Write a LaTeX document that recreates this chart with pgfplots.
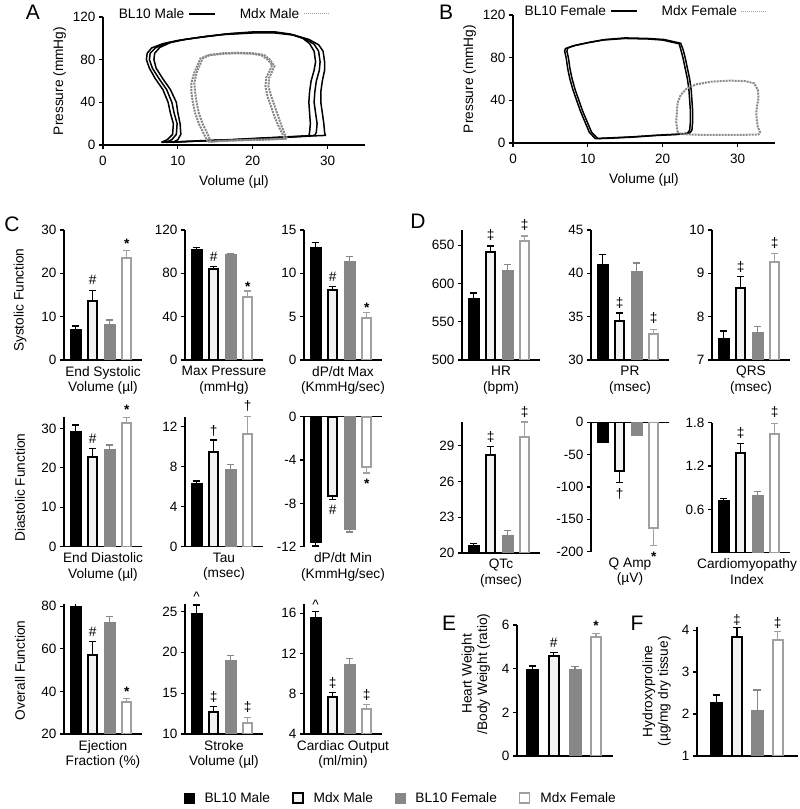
\documentclass[border=0pt]{standalone}
\usepackage{fontspec}
\setmainfont{Liberation Sans}
\usepackage{pgfplots}
\pgfplotsset{compat=1.18}
\definecolor{gF}{RGB}{135,135,135}
\definecolor{gM}{RGB}{160,160,160}
\definecolor{gL}{RGB}{135,135,135}
\newcommand{\tk}{\fontsize{13.5}{15}\selectfont}
\newcommand{\lb}{\fontsize{13.7}{15.5}\selectfont}
\newcommand{\pl}{\fontsize{21}{23}\selectfont}
\def\bw{10.5}\def\mw{8.5}
\pgfplotsset{
 common/.style={scale only axis, anchor=south west, axis x line*=bottom, axis y line*=left,
   tick align=outside, major tick length=4pt, tick style={black, line width=1.1pt},
   axis line style={black, line width=1.1pt}, tick label style={font=\tk},
   /pgf/number format/assume math mode=true, label style={font=\lb}, enlargelimits=false},
 bp/.style={common, width=78pt, height=130pt, xmin=0.32, xmax=4.9, xtick=\empty,
   ybar, bar shift=0pt, clip=true, clip mode=individual},
 eb/.style n args={2}{error bars/.cd, y dir=#1, y explicit,
   error bar style={#2, line width=1.4pt},
   error mark options={rotate=90, #2, line width=1.4pt, mark size=3.8pt}},
 sBM/.style={bar shift=0pt, bar width=\bw pt, fill=black, draw=black, line width=0.4pt, eb={#1}{black}},
 sBM/.default=plus,
 sMM/.style={bar shift=0pt, bar width=\mw pt, fill=gray!10, draw=black, line width=2pt, eb={#1}{black}},
 sMM/.default=plus,
 sBF/.style={bar shift=0pt, bar width=\bw pt, fill=gF, draw=gF, line width=0.4pt, eb={#1}{gF}},
 sBF/.default=plus,
 sMF/.style={bar shift=0pt, bar width=\mw pt, fill=white, draw=gM, line width=2pt, eb={#1}{gM}},
 sMF/.default=plus,
 pv/.style={common, width=262pt, height=128pt, xmin=0, xmax=35, ymin=0, ymax=120,
   xtick={0,10,20,30}, ytick={0,40,80,120}, xlabel={Volume (µl)}, ylabel={Pressure (mmHg)},
   xticklabel style={yshift=-4pt}, xlabel style={yshift=-3pt},
   clip=false,
   legend image code/.code={\draw[##1] (0pt,0pt) -- (26pt,0pt);},
   legend style={draw=none, fill=none, font=\lb, legend columns=-1, anchor=center,
     /tikz/every even column/.append style={column sep=22pt},
     /tikz/every odd column/.append style={column sep=2pt}},
   legend plot pos=right},
 bl/.style={black, line width=1.5pt},
 ml/.style={gL, line width=2pt, dash pattern=on 2pt off 1pt},
}
\tikzset{an/.style={font=\lb, inner sep=0pt},
  cat/.style={font=\lb, align=center, anchor=north, inner sep=0pt, yshift=-6pt},
  plab/.style={font=\pl, inner sep=0pt}}
\begin{document}
\begin{tikzpicture}
\useasboundingbox (0,0) rectangle (800pt,809pt);
% ---------------- A
\begin{axis}[pv, at={(103pt,664pt)}, legend style={at={(axis description cs:0.46,1.025)}}]
\addlegendimage{black, line width=1.5pt}\addlegendentry{BL10 Male}
\addlegendimage{gM, line width=1pt, densely dotted}\addlegendentry{Mdx Male}
\addplot[bl, forget plot] coordinates {(7.8,2.5)(8.6,5)(9.3,10)(9.4,20)(9.0,30)(8.7,40)(8.0,52)(7.0,62)(6.2,72)(5.8,80)(5.9,86)(6.5,91)(8,95)(10,98)(13,101)(16,103.5)(20,105)(23,105)(25.5,103)(27.5,99)(28.8,94)(29.4,88)(29.6,78)(29.6,70)(29.3,60)(29.1,50)(29.1,40)(29.3,30)(29.5,20)(29.6,12)(29.7,9)(28,8.5)(24,7)(20,5.5)(16,4.5)(12,3.5)(9,2.8)(7.8,2.5)};
\addplot[bl, forget plot] coordinates {(8.4,2.5)(9.2,5)(9.8,10)(9.9,20)(9.5,30)(9.2,40)(8.5,52)(7.5,62)(6.6,72)(6.2,80)(6.3,86)(7.0,91)(8.5,95.5)(10.5,98.5)(13.5,101.5)(16.5,104)(20,105.5)(23,105.5)(25.3,103.5)(27.0,99.5)(28.2,94.5)(28.8,88)(29.0,78)(28.9,70)(28.5,60)(28.3,50)(28.2,40)(28.4,30)(28.6,20)(28.5,12)(28.3,9)(26,8)(22,6.5)(18,5)(14,4)(11,3.2)(8.4,2.5)};
\addplot[bl, forget plot] coordinates {(9.3,2.5)(10.0,5)(10.4,10)(10.3,20)(10.0,30)(9.8,40)(9.0,52)(8.0,62)(7.1,72)(6.8,80)(6.9,86)(7.6,91.5)(9,96)(11,99)(14,102)(17,104.5)(20,106)(23,106)(25,104)(26.7,100)(27.6,95)(28.2,88)(28.4,78)(28.2,70)(27.8,60)(27.6,50)(27.5,40)(27.6,30)(27.7,20)(27.6,12)(27.5,8.5)(25,7.8)(21,6.5)(17,5)(13,4)(10.5,3)(9.3,2.5)};
\addplot[ml, forget plot] coordinates {(14.0,3)(13.5,10)(12.8,20)(12.3,30)(12.0,40)(11.8,50)(11.8,58)(12.2,68)(12.7,76)(13.0,81)(14,84)(16,85.5)(18,86)(20,85.5)(21.2,84)(22.0,80)(22.6,75)(22.3,70)(21.8,63)(21.7,55)(22.0,45)(22.5,35)(23.0,25)(23.5,17)(24.0,10)(24.3,6)(22,5)(19,4.5)(16,3.8)(14.0,3)};
\addplot[ml, forget plot] coordinates {(14.4,3)(14.0,10)(13.3,20)(12.8,30)(12.5,40)(12.3,50)(12.2,58)(12.5,68)(13.0,76)(13.3,81)(14.3,84.5)(16,86)(18,86.5)(20,86)(21.5,84.5)(22.3,80)(22.9,74)(22.6,69)(22.2,63)(22.1,55)(22.5,45)(23.0,35)(23.5,25)(23.9,17)(24.3,10)(24.6,6)(22,5.3)(19,4.8)(16,4)(14.4,3)};
\end{axis}
\node[plab] at (33pt,797pt) {A};
% ---------------- B
\begin{axis}[pv, at={(513pt,666pt)}, legend style={at={(axis description cs:0.505,1.03)}}]
\addlegendimage{black, line width=1.5pt}\addlegendentry{BL10 Female}
\addlegendimage{gM, line width=1pt, densely dotted}\addlegendentry{Mdx Female}
\addplot[bl, forget plot] coordinates {(11.0,4)(10.2,10)(9.6,20)(9.0,30)(8.5,40)(8.0,50)(7.6,60)(7.3,70)(7.1,80)(6.9,86)(7.0,88.5)(8,91)(10,94)(12,96.5)(15,98)(18,97.5)(20,96.5)(22.2,93)(22.4,88)(22.7,80)(23.0,70)(23.3,60)(23.5,50)(23.6,40)(23.7,30)(23.7,20)(23.6,12)(23.3,9)(22,8)(19,7)(16,5.5)(13,4.5)(11.0,4)};
\addplot[bl, forget plot] coordinates {(11.3,4.3)(10.5,10)(9.9,20)(9.3,30)(8.8,40)(8.3,50)(7.9,60)(7.6,70)(7.4,80)(7.2,86)(7.3,89)(8.3,91.5)(10.3,94.5)(12.3,97)(15,98.5)(18,98)(20.2,97)(22.4,93.5)(22.7,88)(23.0,80)(23.3,70)(23.6,60)(23.8,50)(23.9,40)(24.0,30)(24.0,20)(23.9,12)(23.6,9.3)(22,8.3)(19,7.2)(16,5.8)(13,4.8)(11.3,4.3)};
\addplot[ml, forget plot] coordinates {(22.0,10)(21.8,20)(21.9,30)(22.0,38)(22.4,45)(23.2,51)(24.5,55)(26.5,57.5)(29,58.5)(31,58)(32.2,56)(32.7,50)(32.8,42)(32.6,35)(32.5,28)(32.6,20)(32.7,15)(33.0,10)(32.8,8)(30,7.5)(27,7.5)(24,7.8)(22.5,8.5)(22.0,10)};
\end{axis}
\node[plab] at (446pt,797pt) {B};
% ---------------- C row 1
\node[plab] at (12pt,585pt) {C};
\begin{axis}[bp, at={(64pt,449pt)}, ymin=0, ymax=30, ytick={0,10,20,30},
  ylabel={Systolic Function}, ylabel style={at={(axis description cs:-0.564,0.46)}, anchor=center}]
\addplot[sBM] coordinates {(1,7.0) +- (0,0.8)};
\addplot[sMM] coordinates {(2,13.7) +- (0,2.3)};
\addplot[sBF] coordinates {(3,8.2) +- (0,1.0)};
\addplot[sMF] coordinates {(4,23.65) +- (0,1.55)};
\node[an] at (axis cs:2,18.5) {\#};
\node[an, yshift=-3pt] at (axis cs:4,27.5) {\textbf{*}};
\node[cat] at (rel axis cs:0.5,0) {End Systolic\\Volume (µl)};
\end{axis}
\begin{axis}[bp, at={(185pt,449pt)}, ymin=0, ymax=120, ytick={0,40,80,120}]
\addplot[sBM] coordinates {(1,102.5) +- (0,1.5)};
\addplot[sMM] coordinates {(2,83.7) +- (0,2.5)};
\addplot[sBF] coordinates {(3,97.6) +- (0,0.9)};
\addplot[sMF] coordinates {(4,58.5) +- (0,5.2)};
\node[an] at (axis cs:2,95.3) {\#};
\node[an, yshift=-3pt] at (axis cs:4,70.8) {\textbf{*}};
\node[cat] at (rel axis cs:0.5,0) {Max Pressure\\(mmHg)};
\end{axis}
\begin{axis}[bp, at={(304pt,449pt)}, ymin=0, ymax=15, ytick={0,5,10,15}]
\addplot[sBM] coordinates {(1,13.07) +- (0,0.5)};
\addplot[sMM] coordinates {(2,8.08) +- (0,0.38)};
\addplot[sBF] coordinates {(3,11.42) +- (0,0.5)};
\addplot[sMF] coordinates {(4,4.88) +- (0,0.58)};
\node[an] at (axis cs:2,9.6) {\#};
\node[an, yshift=-3pt] at (axis cs:4,6.4) {\textbf{*}};
\node[cat] at (rel axis cs:0.5,0) {dP/dt Max\\(KmmHg/sec)};
\end{axis}
% ---------------- C row 2
\begin{axis}[bp, at={(64pt,262.3pt)}, ymin=0, ymax=33, ytick={0,10,20,30},
  ylabel={Diastolic Function}, ylabel style={at={(axis description cs:-0.564,0.455)}, anchor=center}]
\addplot[sBM] coordinates {(1,29.4) +- (0,1.5)};
\addplot[sMM] coordinates {(2,22.8) +- (0,2.1)};
\addplot[sBF] coordinates {(3,24.8) +- (0,1.0)};
\addplot[sMF] coordinates {(4,31.3) +- (0,1.5)};
\node[an] at (axis cs:2,27.3) {\#};
\node[an, yshift=-3pt] at (axis cs:4,35.4) {\textbf{*}};
\node[cat] at (rel axis cs:0.5,0) {End Diastolic\\Volume (µl)};
\end{axis}
\begin{axis}[bp, at={(185pt,262.3pt)}, ymin=0, ymax=13, ytick={0,4,8,12}]
\addplot[sBM] coordinates {(1,6.3) +- (0,0.26)};
\addplot[sMM] coordinates {(2,9.45) +- (0,1.22)};
\addplot[sBF] coordinates {(3,7.79) +- (0,0.41)};
\addplot[sMF] coordinates {(4,11.27) +- (0,1.73)};
\node[an] at (axis cs:2,11.6) {†};
\node[an] at (axis cs:4,14.1) {†};
\node[cat] at (rel axis cs:0.5,0) {Tau\\(msec)};
\end{axis}
\begin{axis}[bp, at={(304pt,262.3pt)}, axis x line*=top, ymin=-12, ymax=0, ytick={-12,-8,-4,0}, yticklabels={-12,-8,-4,0}]
\addplot[sBM=minus] coordinates {(1,-11.54) +- (0,0.4)};
\addplot[sMM=minus] coordinates {(2,-7.3) +- (0,0.35)};
\addplot[sBF=minus] coordinates {(3,-10.4) +- (0,0.25)};
\addplot[sMF=minus] coordinates {(4,-4.6) +- (0,0.6)};
\node[an] at (axis cs:2,-8.6) {\#};
\node[an, yshift=-3pt] at (axis cs:4,-5.96) {\textbf{*}};
\node[cat] at (rel axis cs:0.5,0) {dP/dt Min\\(KmmHg/sec)};
\end{axis}
% ---------------- C row 3
\begin{axis}[bp, at={(64pt,75pt)}, ymin=20, ymax=81, ytick={20,40,60,80},
  ylabel={Overall Function}, ylabel style={at={(axis description cs:-0.564,0.49)}, anchor=center}]
\addplot[sBM] coordinates {(1,80) +- (0,1.5)};
\addplot[sMM] coordinates {(2,57.2) +- (0,6.1)};
\addplot[sBF] coordinates {(3,72.6) +- (0,2.6)};
\addplot[sMF] coordinates {(4,35) +- (0,1.6)};
\node[an] at (axis cs:2,68.0) {\#};
\node[an, yshift=-3pt] at (axis cs:4,41.4) {\textbf{*}};
\node[cat] at (rel axis cs:0.5,0) {Ejection\\Fraction (\%)};
\end{axis}
\begin{axis}[bp, at={(185pt,75pt)}, ymin=10, ymax=25.9, ytick={10,15,20,25}]
\addplot[sBM] coordinates {(1,24.8) +- (0,1.0)};
\addplot[sMM] coordinates {(2,12.64) +- (0,0.69)};
\addplot[sBF] coordinates {(3,19.0) +- (0,0.6)};
\addplot[sMF] coordinates {(4,11.3) +- (0,0.7)};
\node[an, yshift=-2pt] at (axis cs:1,27.0) {\^{}};
\node[an] at (axis cs:2,14.56) {‡};
\node[an] at (axis cs:4,13.34) {‡};
\node[cat] at (rel axis cs:0.5,0) {Stroke\\Volume (µl)};
\end{axis}
\begin{axis}[bp, at={(304pt,75pt)}, ymin=4, ymax=16.9, ytick={4,8,12,16}]
\addplot[sBM] coordinates {(1,15.57) +- (0,0.59)};
\addplot[sMM] coordinates {(2,7.68) +- (0,0.42)};
\addplot[sBF] coordinates {(3,10.95) +- (0,0.55)};
\addplot[sMF] coordinates {(4,6.47) +- (0,0.43)};
\node[an, yshift=-2pt] at (axis cs:1,17.0) {\^{}};
\node[an] at (axis cs:2,9.06) {‡};
\node[an] at (axis cs:4,7.87) {‡};
\node[cat] at (rel axis cs:0.5,0) {Cardiac Output\\(ml/min)};
\end{axis}
% ---------------- D row 1
\node[plab] at (418pt,588pt) {D};
\begin{axis}[bp, at={(462pt,449pt)}, ymin=500, ymax=670, ytick={500,550,600,650}]
\addplot[sBM] coordinates {(1,580.5) +- (0,7.3)};
\addplot[sMM] coordinates {(2,640.6) +- (0,8.4)};
\addplot[sBF] coordinates {(3,617.5) +- (0,7.5)};
\addplot[sMF] coordinates {(4,655.7) +- (0,6.3)};
\node[an] at (axis cs:2,663.5) {‡};
\node[an] at (axis cs:4,676.5) {‡};
\node[cat] at (rel axis cs:0.5,0) {HR\\(bpm)};
\end{axis}
\begin{axis}[bp, at={(591pt,449pt)}, ymin=30, ymax=45, ytick={30,35,40,45}]
\addplot[sBM] coordinates {(1,41.0) +- (0,1.2)};
\addplot[sMM] coordinates {(2,34.5) +- (0,0.9)};
\addplot[sBF] coordinates {(3,40.2) +- (0,1.0)};
\addplot[sMF] coordinates {(4,33.0) +- (0,0.5)};
\node[an] at (axis cs:2,36.6) {‡};
\node[an] at (axis cs:4,34.85) {‡};
\node[cat] at (rel axis cs:0.5,0) {PR\\(msec)};
\end{axis}
\begin{axis}[bp, at={(712pt,449pt)}, ymin=7, ymax=10, ytick={7,8,9,10}]
\addplot[sBM] coordinates {(1,7.5) +- (0,0.17)};
\addplot[sMM] coordinates {(2,8.65) +- (0,0.27)};
\addplot[sBF] coordinates {(3,7.65) +- (0,0.12)};
\addplot[sMF] coordinates {(4,9.27) +- (0,0.19)};
\node[an] at (axis cs:2,9.15) {‡};
\node[an] at (axis cs:4,9.69) {‡};
\node[cat] at (rel axis cs:0.5,0) {QRS\\(msec)};
\end{axis}
% ---------------- D row 2
\begin{axis}[bp, at={(462pt,256pt)}, height=131pt, ymin=20, ymax=31, ytick={20,23,26,29}]
\addplot[sBM] coordinates {(1,20.67) +- (0,0.13)};
\addplot[sMM] coordinates {(2,28.2) +- (0,0.75)};
\addplot[sBF] coordinates {(3,21.5) +- (0,0.37)};
\addplot[sMF] coordinates {(4,29.78) +- (0,1.22)};
\node[an] at (axis cs:2,29.77) {‡};
\node[an] at (axis cs:4,31.86) {‡};
\node[cat] at (rel axis cs:0.5,0) {QTc\\(msec)};
\end{axis}
\begin{axis}[bp, at={(591pt,257.3pt)}, height=129.4pt, axis x line*=top, ymin=-200, ymax=0,
  ytick={-200,-150,-100,-50,0}, yticklabels={-200,-150,-100,-50,0}]
\addplot[sBM=minus] coordinates {(1,-30) +- (0,1)};
\addplot[sMM=minus] coordinates {(2,-74.8) +- (0,18.2)};
\addplot[sBF=minus] coordinates {(3,-19.6) +- (0,0.9)};
\addplot[sMF=minus] coordinates {(4,-163) +- (0,27)};
\node[an] at (axis cs:2,-110.8) {†};
\node[an, yshift=-3pt] at (axis cs:4,-202.5) {\textbf{*}};
\node[cat] at (rel axis cs:0.5,0) {Q Amp\\(µV)};
\end{axis}
\begin{axis}[bp, at={(712pt,256.3pt)}, ymin=0, ymax=1.8, ytick={0.6,1.2,1.8}]
\addplot[sBM] coordinates {(1,0.72) +- (0,0.03)};
\addplot[sMM] coordinates {(2,1.38) +- (0,0.13)};
\addplot[sBF] coordinates {(3,0.79) +- (0,0.06)};
\addplot[sMF] coordinates {(4,1.64) +- (0,0.15)};
\node[an] at (axis cs:2,1.662) {‡};
\node[an] at (axis cs:4,1.953) {‡};
\node[cat, xshift=-4pt] at (rel axis cs:0.5,0) {Cardiomyopathy\\Index};
\end{axis}
% ---------------- E, F
\def\bw{12}\def\mw{10}
\node[plab] at (449pt,186pt) {E};
\begin{axis}[bp, at={(517pt,53pt)}, width=96pt, height=131pt, xmin=0.26, xmax=4.8, ymin=0, ymax=6, ytick={0,2,4,6},
  ylabel={Heart Weight\\/Body Weight (ratio)}, ylabel style={align=center, at={(axis description cs:-0.43,0.626)}, anchor=center}]
\addplot[sBM] coordinates {(1,3.96) +- (0,0.16)};
\addplot[sMM] coordinates {(2,4.58) +- (0,0.15)};
\addplot[sBF] coordinates {(3,3.97) +- (0,0.13)};
\addplot[sMF] coordinates {(4,5.46) +- (0,0.16)};
\node[an] at (axis cs:2,5.19) {\#};
\node[an, yshift=-3pt] at (axis cs:4,6.08) {\textbf{*}};
\end{axis}
\node[plab] at (637pt,186pt) {F};
\begin{axis}[bp, at={(697pt,53pt)}, width=101pt, height=129.3pt, xmin=0.04, xmax=5.0, ymin=1, ymax=4.08, ytick={1,2,3,4},
  ylabel={Hydroxyproline\\(µg/mg dry tissue)}, ylabel style={align=center, at={(axis description cs:-0.4,0.5)}, anchor=center}]
\addplot[sBM] coordinates {(1,2.27) +- (0,0.18)};
\addplot[sMM] coordinates {(2,3.83) +- (0,0.23)};
\addplot[sBF] coordinates {(3,2.08) +- (0,0.49)};
\addplot[sMF] coordinates {(4,3.77) +- (0,0.19)};
\node[an] at (axis cs:2,4.23) {‡};
\node[an] at (axis cs:4,4.17) {‡};
\end{axis}
% ---------------- bottom legend
\begin{axis}[hide axis, scale only axis, width=10pt, height=10pt, xmin=0, xmax=1, ymin=0, ymax=1,
  at={(401pt,11pt)}, anchor=center,
  legend image code/.code={\draw[#1] (0pt,-5pt) rectangle (10pt,5pt);},
  legend style={at={(0.5,0.5)}, anchor=center, draw=none, fill=none, font=\lb, legend columns=-1,
    /tikz/every odd column/.append style={column sep=8pt},
    /tikz/every even column/.append style={column sep=20pt}}]
\addlegendimage{fill=black, draw=black}\addlegendentry{BL10 Male}
\addlegendimage{fill=gray!10, draw=black, line width=1.6pt}\addlegendentry{Mdx Male}
\addlegendimage{fill=gF, draw=gF}\addlegendentry{BL10 Female}
\addlegendimage{fill=white, draw=gM, line width=1.6pt}\addlegendentry{Mdx Female}
\end{axis}
\end{tikzpicture}
\end{document}
